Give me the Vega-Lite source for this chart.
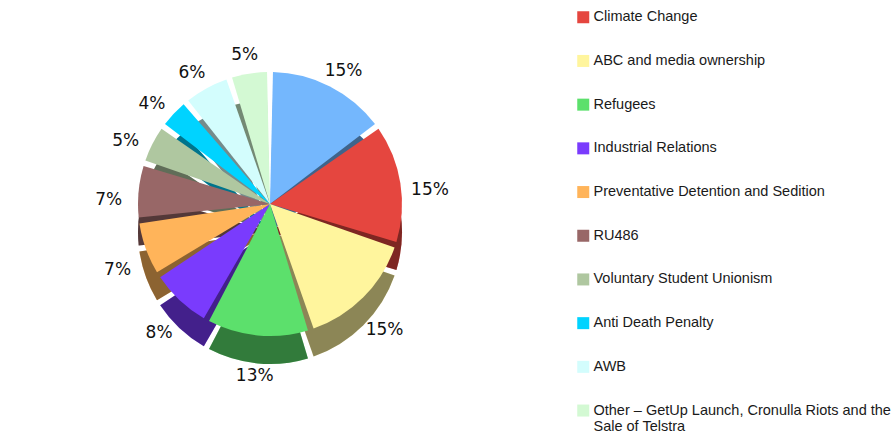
{
  "$schema": "https://vega.github.io/schema/vega-lite/v6.json",
  "width": 540,
  "height": 438,
  "padding": 0,
  "background": "white",
  "config": {"view": {"stroke": null}},
  "data": {
    "values": [
      {"topic": "Unnamed", "pct": 15, "idx": 1},
      {"topic": "Climate Change", "pct": 15, "idx": 2},
      {"topic": "ABC and media ownership", "pct": 15, "idx": 3},
      {"topic": "Refugees", "pct": 13, "idx": 4},
      {"topic": "Industrial Relations", "pct": 8, "idx": 5},
      {"topic": "Preventative Detention and Sedition", "pct": 7, "idx": 6},
      {"topic": "RU486", "pct": 7, "idx": 7},
      {"topic": "Voluntary Student Unionism", "pct": 5, "idx": 8},
      {"topic": "Anti Death Penalty", "pct": 4, "idx": 9},
      {"topic": "AWB", "pct": 6, "idx": 10},
      {"topic": "Other – GetUp Launch, Cronulla Riots and the Sale of Telstra", "pct": 5, "idx": 11}
    ]
  },
  "encoding": {
    "theta": {"field": "pct", "type": "quantitative", "stack": true},
    "order": {"field": "idx", "type": "quantitative"}
  },
  "layer": [
    {
      "mark": {"type": "arc", "radius": 132, "padAngle": 0.045, "yOffset": 13},
      "encoding": {
        "color": {
          "field": "topic",
          "type": "nominal",
          "scale": {
            "domain": ["Unnamed", "Climate Change", "ABC and media ownership", "Refugees", "Industrial Relations", "Preventative Detention and Sedition", "RU486", "Voluntary Student Unionism", "Anti Death Penalty", "AWB", "Other – GetUp Launch, Cronulla Riots and the Sale of Telstra"],
            "range": ["#74B7FD", "#E5463F", "#FFF59D", "#5CE06C", "#7A3BFD", "#FFB45A", "#986767", "#AFC7A0", "#00D3FF", "#D3FDFD", "#D3F9D3"]
          },
          "legend": {
            "values": ["Climate Change", "ABC and media ownership", "Refugees", "Industrial Relations", "Preventative Detention and Sedition", "RU486", "Voluntary Student Unionism", "Anti Death Penalty", "AWB", "Other – GetUp Launch, Cronulla Riots and the Sale of Telstra"],
            "title": null,
            "orient": "none",
            "legendX": 576,
            "legendY": 10,
            "padding": 0,
            "symbolType": "square",
            "symbolSize": 144,
            "symbolStrokeWidth": 0,
            "symbolOpacity": 1,
            "labelFont": "Liberation Sans",
            "labelFontSize": 14.5,
            "labelColor": "#1a1a1a",
            "labelLimit": 400,
            "labelOffset": 3,
            "rowPadding": 28.7,
            "labelExpr": "indexof(datum.label, 'Other') == 0 ? ['Other – GetUp Launch, Cronulla Riots and the', 'Sale of Telstra'] : datum.label"
          }
        }
      }
    },
    {
      "mark": {"type": "arc", "radius": 132, "padAngle": 0.045, "yOffset": 13, "fill": "black", "fillOpacity": 0.45},
      "encoding": {"detail": {"field": "topic"}}
    },
    {
      "mark": {"type": "arc", "radius": 132, "padAngle": 0.045, "yOffset": -15},
      "encoding": {"color": {"field": "topic", "type": "nominal"}}
    },
    {
      "mark": {"type": "text", "radius": 162, "font": "DejaVu Sans", "fontSize": 17, "color": "#111111", "yOffset": -4, "text": {"expr": "datum.pct + '%'"}},
      "encoding": {
        "detail": {"field": "topic"}
      }
    }
  ],
  "resolve": {"scale": {"color": "shared"}}
}
